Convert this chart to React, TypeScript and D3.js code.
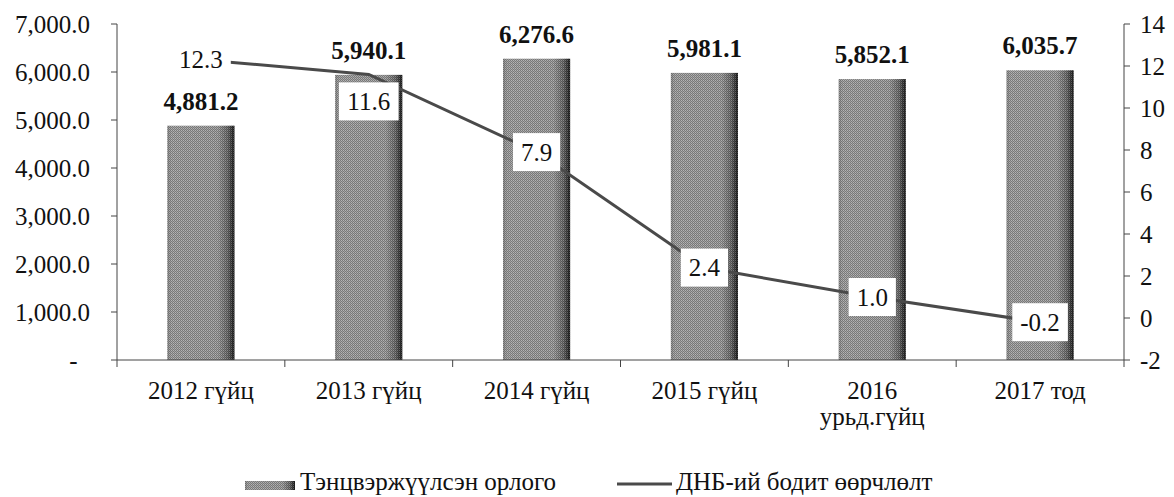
import React from "react";
import * as d3 from "d3";

const categories = ["2012 гүйц", "2013 гүйц", "2014 гүйц", "2015 гүйц", "2016\nурьд.гүйц", "2017 тод"];
const incomeValues = [4881.2, 5940.1, 6276.6, 5981.1, 5852.1, 6035.7];
const gdpGrowth = [12.3, 11.6, 7.9, 2.4, 1.0, -0.2];
const leftTicks = [0, 1000, 2000, 3000, 4000, 5000, 6000, 7000];
const rightTicks = [-2, 0, 2, 4, 6, 8, 10, 12, 14];
const legendLabels = ["Тэнцвэржүүлсэн орлого", "ДНБ-ий бодит өөрчлөлт"];

const W = 1174;
const H = 497;
const M = { left: 117, right: 1124, top: 24, bottom: 360 };
const FONT = "'Liberation Serif', Tinos, 'Times New Roman', serif";
const FS = 25;

const locale = d3.formatLocale({ decimal: ".", thousands: ",", grouping: [3], currency: ["", ""], minus: "-" });

function textWidth(s: string, size: number) {
  let w = 0;
  for (const ch of s) {
    if (/[0-9]/.test(ch)) w += 0.5;
    else if (ch === "." || ch === ",") w += 0.25;
    else if (ch === "-") w += 0.333;
    else w += 0.5;
  }
  return w * size;
}

export default function App() {
  const x = d3.scaleBand<string>().domain(categories).range([M.left, M.right]).padding(0);
  const yL = d3.scaleLinear().domain([0, 7000]).range([M.bottom, M.top]);
  const yR = d3.scaleLinear().domain([-2, 14]).range([M.bottom, M.top]);
  const barW = x.bandwidth() * 0.4;
  const cx = (c: string) => (x(c) as number) + x.bandwidth() / 2;
  const fmtL = (v: number) => (v === 0 ? "-\u00a0\u00a0" : locale.format(",.1f")(v));
  const fmtBar = locale.format(",.1f");
  const fmtLine = locale.format(".1f");
  const fmtR = locale.format("d");
  const labelPlacement = ["center", "below", "center", "center", "center", "center"];

  const linePts: [number, number][] = categories.map((c, i) => [cx(c), yR(gdpGrowth[i])]);
  const linePath = d3.line()(linePts) as string;

  const boundaries = d3.range(categories.length + 1).map((i) => M.left + i * x.step());

  return (
    <div style={{ position: "fixed", left: 0, top: 0 }}>
      <svg width={W} height={H} style={{ display: "block", background: "#fff", fontFamily: FONT }}>
        <defs>
          <linearGradient id="barGrad" x1="0" x2="1" y1="0" y2="0">
            <stop offset="0%" stopColor="#8a8a8a" />
            <stop offset="6%" stopColor="#a2a2a2" />
            <stop offset="75%" stopColor="#9e9e9e" />
            <stop offset="90%" stopColor="#6a6a6a" />
            <stop offset="100%" stopColor="#1a1a1a" />
          </linearGradient>
          <pattern id="dither" width="2" height="2" patternUnits="userSpaceOnUse">
            <rect x="0" y="0" width="1" height="1" fill="#000" opacity="0.25" />
            <rect x="1" y="1" width="1" height="1" fill="#000" opacity="0.25" />
            <rect x="1" y="0" width="1" height="1" fill="#fff" opacity="0.2" />
          </pattern>
        </defs>

        {/* bars */}
        {categories.map((c, i) => (
          <g key={"bar" + i}>
            <rect x={cx(c) - barW / 2} y={yL(incomeValues[i])} width={barW} height={yL(0) - yL(incomeValues[i])} fill="url(#barGrad)" />
            <rect x={cx(c) - barW / 2} y={yL(incomeValues[i])} width={barW} height={yL(0) - yL(incomeValues[i])} fill="url(#dither)" />
          </g>
        ))}

        {/* axes */}
        <line x1={M.left} x2={M.left} y1={M.top} y2={M.bottom} stroke="#444" strokeWidth={1} />
        <line x1={M.right} x2={M.right} y1={M.top} y2={M.bottom} stroke="#444" strokeWidth={1} />
        <line x1={M.left} x2={M.right} y1={M.bottom} y2={M.bottom} stroke="#444" strokeWidth={1} />
        {leftTicks.map((t) => (
          <g key={"lt" + t}>
            <line x1={M.left - 6} x2={M.left} y1={yL(t)} y2={yL(t)} stroke="#444" />
            <text x={90} y={yL(t)} dy="0.34em" textAnchor="end" fontSize={FS} fill="#111" style={{ whiteSpace: "pre" }}>
              {fmtL(t)}
            </text>
          </g>
        ))}
        {rightTicks.map((t) => (
          <g key={"rt" + t}>
            <line x1={M.right} x2={M.right + 6} y1={yR(t)} y2={yR(t)} stroke="#444" />
            <text x={M.right + 16} y={yR(t)} dy="0.34em" textAnchor="start" fontSize={FS} fill="#111">
              {fmtR(t)}
            </text>
          </g>
        ))}
        {boundaries.map((b, i) => (
          <line key={"xt" + i} x1={b} x2={b} y1={M.bottom} y2={M.bottom + 7} stroke="#444" />
        ))}
        {categories.map((c, i) => (
          <text key={"xl" + i} x={cx(c)} y={399} textAnchor="middle" fontSize={FS} fill="#111">
            {c.split("\n").map((ln, j) => (
              <tspan key={j} x={cx(c)} dy={j === 0 ? 0 : 26}>
                {ln}
              </tspan>
            ))}
          </text>
        ))}

        {/* line */}
        <path d={linePath} fill="none" stroke="#4a4a4a" strokeWidth={3} />

        {/* line labels */}
        {categories.map((c, i) => {
          const lbl = fmtLine(gdpGrowth[i]);
          const w = textWidth(lbl, FS) + 16;
          const h = 38;
          const px = cx(c);
          const py = yR(gdpGrowth[i]) + (labelPlacement[i] === "below" ? 27 : 0);
          return (
            <g key={"ll" + i}>
              <rect x={px - w / 2} y={py - h / 2} width={w} height={h} fill="#fff" />
              <text x={px} y={py} dy="0.34em" textAnchor="middle" fontSize={FS} fill="#111">
                {lbl}
              </text>
            </g>
          );
        })}

        {/* bar labels */}
        {categories.map((c, i) => (
          <text key={"bl" + i} x={cx(c)} y={yL(incomeValues[i]) - 16} textAnchor="middle" fontSize={FS} fontWeight="bold" fill="#111">
            {fmtBar(incomeValues[i])}
          </text>
        ))}

        {/* legend */}
        <g>
          <rect x={245} y={481} width={50} height={9} fill="url(#barGrad)" />
          <rect x={245} y={481} width={50} height={9} fill="url(#dither)" />
          <text x={300} y={490} fontSize={FS} fill="#111">{legendLabels[0]}</text>
          <line x1={617} x2={672} y1={484} y2={484} stroke="#4a4a4a" strokeWidth={3} />
          <text x={676} y={490} fontSize={FS} fill="#111">{legendLabels[1]}</text>
        </g>
      </svg>
    </div>
  );
}
